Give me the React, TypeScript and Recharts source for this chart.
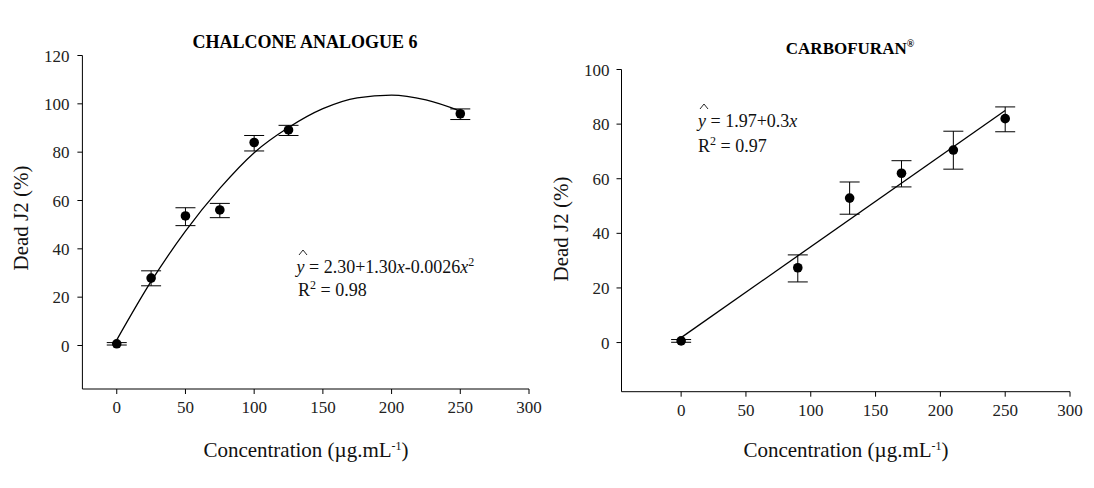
import {
  ComposedChart,
  Scatter,
  Line,
  XAxis,
  YAxis,
  ErrorBar,
} from "recharts";

// values
const chalconeConc = [0, 25, 50, 75, 100, 125, 250];
const chalconeDead = [0.7, 27.9, 53.6, 56.1, 84.0, 89.2, 95.9];
const chalconeErrDown = [0.5, 3.2, 4.0, 3.2, 3.5, 2.3, 2.4];
const chalconeErrUp = [0.5, 3.0, 3.4, 2.7, 2.9, 1.9, 2.0];

const chalconeFitConc = [0, 25, 50, 75, 100, 125, 150, 175, 200, 225, 250];
const chalconeFitDead = [2.3, 26.5, 47.3, 65, 79.8, 90.2, 98, 102.5, 103.6, 101.6, 97];

const carboConc = [0, 90, 130, 170, 210, 250];
const carboDead = [0.6, 27.4, 52.9, 62.0, 70.5, 82.0];
const carboErrDown = [0.5, 5.2, 5.9, 5.0, 7.0, 4.8];
const carboErrUp = [0.5, 4.7, 5.9, 4.6, 6.9, 4.3];

const carboFitConc = [0, 250];
const carboFitDead = [1.8, 85];

const concTicks = [0, 50, 100, 150, 200, 250, 300];
const chalconeYTicks = [0, 20, 40, 60, 80, 100, 120];
const carboYTicks = [0, 20, 40, 60, 80, 100];

const chalconePoints = chalconeConc.map((x, i) => ({
  x,
  y: chalconeDead[i],
  err: [chalconeErrDown[i], chalconeErrUp[i]],
}));
const chalconeFit = chalconeFitConc.map((x, i) => ({ x, y: chalconeFitDead[i] }));
const carboPoints = carboConc.map((x, i) => ({
  x,
  y: carboDead[i],
  err: [carboErrDown[i], carboErrUp[i]],
}));
const carboFit = carboFitConc.map((x, i) => ({ x, y: carboFitDead[i] }));

const serif = "'Liberation Serif', 'Times New Roman', Times, serif";
const axisLine = { stroke: "#000", strokeWidth: 1 };

// tick labels drawn as serif text
const XTick = (p: any) => (
  <text
    x={p.x}
    y={p.y}
    dy={13}
    textAnchor="middle"
    style={{ fontFamily: serif, fontSize: 17, fill: "#222" }}
  >
    {p.payload.value}
  </text>
);
const YTick = (p: any) => (
  <text
    x={p.x}
    y={p.y}
    dy={6}
    textAnchor="end"
    style={{ fontFamily: serif, fontSize: 17, fill: "#222" }}
  >
    {p.payload.value}
  </text>
);

const dot = (p: any) => <circle cx={p.cx} cy={p.cy} r={4.8} fill="#000" />;

const abs = (left: number, top: number, extra: any = {}) => ({
  position: "absolute" as const,
  left,
  top,
  fontFamily: serif,
  color: "#111",
  whiteSpace: "nowrap" as const,
  ...extra,
});

// italic y with a small caret drawn above it (y-hat)
const Hat = () => (
  <span style={{ position: "relative", fontStyle: "italic" }}>
    y
    <svg
      width={8}
      height={5}
      style={{ position: "absolute", left: 2, top: -7, overflow: "visible" }}
    >
      <polyline points="0,5 4,0 8,5" fill="none" stroke="#111" strokeWidth={0.9} />
    </svg>
  </span>
);

const Sup = ({ children }: { children: any }) => (
  <span style={{ position: "relative", top: -7, fontSize: 12 }}>{children}</span>
);

export default function App() {
  return (
    <div
      style={{
        position: "absolute",
        left: 0,
        top: 0,
        width: 1094,
        height: 488,
        background: "#fff",
        overflow: "hidden",
        fontFamily: serif,
      }}
    >
      <div style={{ position: "absolute", left: 0, top: 0 }}>
        <ComposedChart
          width={545}
          height={488}
          margin={{ top: 55.5, right: 16, left: 22.4, bottom: 69 }}
        >
          <XAxis
            dataKey="x"
            type="number"
            domain={[-25, 300]}
            ticks={concTicks}
            allowDataOverflow
            height={30}
            tickSize={5}
            tickMargin={6}
            axisLine={axisLine}
            tickLine={axisLine}
            tick={XTick}
          />
          <YAxis
            dataKey="y"
            type="number"
            domain={[-18, 120]}
            ticks={chalconeYTicks}
            allowDataOverflow
            width={60}
            tickSize={5}
            tickMargin={8}
            axisLine={axisLine}
            tickLine={axisLine}
            tick={YTick}
          />
          <Line
            data={chalconeFit}
            dataKey="y"
            type="monotone"
            stroke="#000"
            strokeWidth={1.3}
            dot={false}
            activeDot={false}
            isAnimationActive={false}
          />
          <Scatter
            data={chalconePoints}
            dataKey="y"
            shape={dot}
            isAnimationActive={false}
          >
            <ErrorBar dataKey="err" direction="y" width={10} stroke="#000" strokeWidth={1} />
          </Scatter>
        </ComposedChart>
      </div>

      <div style={{ position: "absolute", left: 545, top: 0 }}>
        <ComposedChart
          width={549}
          height={488}
          margin={{ top: 69.5, right: 24, left: 16.5, bottom: 66.3 }}
        >
          <XAxis
            dataKey="x"
            type="number"
            domain={[-46, 300]}
            ticks={concTicks}
            allowDataOverflow
            height={30}
            tickSize={5}
            tickMargin={6}
            axisLine={axisLine}
            tickLine={axisLine}
            tick={XTick}
          />
          <YAxis
            dataKey="y"
            type="number"
            domain={[-18, 100]}
            ticks={carboYTicks}
            allowDataOverflow
            width={60}
            tickSize={5}
            tickMargin={7}
            axisLine={axisLine}
            tickLine={axisLine}
            tick={YTick}
          />
          <Line
            data={carboFit}
            dataKey="y"
            type="linear"
            stroke="#000"
            strokeWidth={1.3}
            dot={false}
            activeDot={false}
            isAnimationActive={false}
          />
          <Scatter
            data={carboPoints}
            dataKey="y"
            shape={dot}
            isAnimationActive={false}
          >
            <ErrorBar dataKey="err" direction="y" width={10} stroke="#000" strokeWidth={1} />
          </Scatter>
        </ComposedChart>
      </div>

      {/* titles */}
      <div style={abs(155, 32, { width: 300, textAlign: "center", fontSize: 18, fontWeight: "bold", lineHeight: "20px", color: "#000" })}>
        CHALCONE ANALOGUE 6
      </div>
      <div style={abs(700, 39, { width: 300, textAlign: "center", fontSize: 17, fontWeight: "bold", lineHeight: "20px", color: "#000" })}>
        CARBOFURAN
        <span style={{ position: "relative", top: -7, fontSize: 10 }}>®</span>
      </div>

      {/* axis titles */}
      <div style={abs(156, 439, { width: 300, textAlign: "center", fontSize: 21, lineHeight: "22px" })}>
        Concentration (µg.mL<Sup>-1</Sup>)
      </div>
      <div style={abs(696, 439, { width: 300, textAlign: "center", fontSize: 21, lineHeight: "22px" })}>
        Concentration (µg.mL<Sup>-1</Sup>)
      </div>
      <div
        style={abs(21, 218, {
          fontSize: 21,
          lineHeight: "22px",
          transform: "translate(-50%, -50%) rotate(-90deg)",
        })}
      >
        Dead J2 (%)
      </div>
      <div
        style={abs(561, 229, {
          fontSize: 21,
          lineHeight: "22px",
          transform: "translate(-50%, -50%) rotate(-90deg)",
        })}
      >
        Dead J2 (%)
      </div>

      {/* regression notes */}
      <div style={abs(296.5, 257, { fontSize: 18, lineHeight: "20px" })}>
        <Hat /> = 2.30+1.30<i>x</i>-0.0026<i>x</i>
        <Sup>2</Sup>
      </div>
      <div style={abs(298, 280, { fontSize: 18, lineHeight: "20px" })}>
        R<Sup>2</Sup> = 0.98
      </div>
      <div style={abs(698, 111, { fontSize: 18, lineHeight: "20px" })}>
        <Hat /> = 1.97+0.3<i>x</i>
      </div>
      <div style={abs(698, 136, { fontSize: 18, lineHeight: "20px" })}>
        R<Sup>2</Sup> = 0.97
      </div>
    </div>
  );
}
